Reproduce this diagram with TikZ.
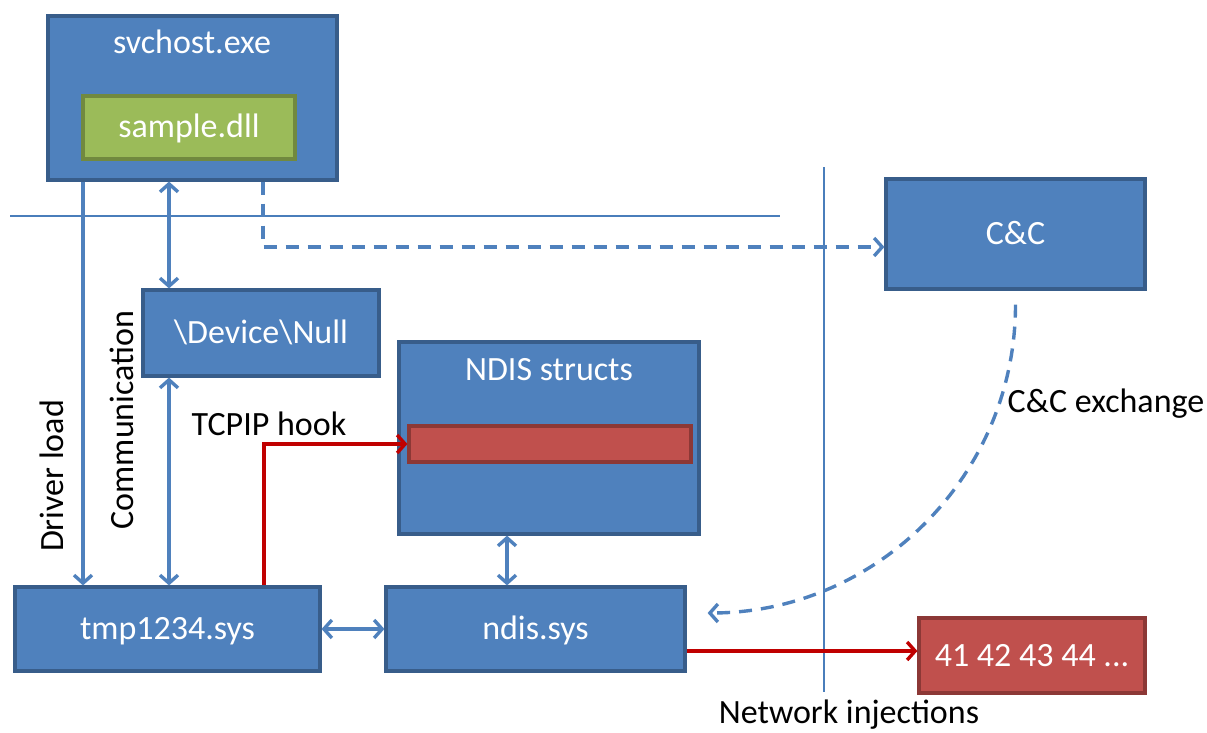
\documentclass[tikz,border=0pt]{standalone}
\usepackage{fontspec}
\setmainfont{Carlito}
\usetikzlibrary{arrows.meta}
\definecolor{bfill}{HTML}{4F81BD}
\definecolor{bdraw}{HTML}{385D8A}
\definecolor{gfill}{HTML}{9BBB59}
\definecolor{gdraw}{HTML}{71893F}
\definecolor{rfill}{HTML}{C0504D}
\definecolor{rdraw}{HTML}{8C3836}
\definecolor{conblue}{HTML}{4F81BD}
\definecolor{conred}{HTML}{C00000}
\definecolor{thinblue}{HTML}{4A7EBB}
\begin{document}
\begin{tikzpicture}[x=1pt,y=-1pt,
  font=\fontsize{34}{40}\selectfont,
  >={Straight Barb[length=8pt,width=18pt]},
  box/.style={draw=bdraw, fill=bfill, line width=3.2pt, text=white, inner sep=0pt,
              text height=21pt, text depth=0pt, align=center},
  greenbox/.style={box, draw=gdraw, fill=gfill},
  redbox/.style={box, draw=rdraw, fill=rfill},
  bluecon/.style={draw=conblue, line width=3.4pt},
  redcon/.style={draw=conred, line width=3.4pt},
  dashcon/.style={bluecon, dash pattern=on 13pt off 9pt},
  thinline/.style={draw=thinblue, line width=1.2pt},
  lbl/.style={text=black, inner sep=0pt, anchor=base},
  boxtext/.style={text=white, inner sep=0pt, anchor=base}]
\useasboundingbox (0,0) rectangle (1207,733);

% boxes
\node[box, minimum width=289pt, minimum height=164pt] (svchost) at (192.5,98) {};
\node[boxtext] (svchostlbl) at (192,54) {svchost.exe};
\node[greenbox, minimum width=212pt, minimum height=63pt] (sample) at (189,127.5) {sample.dll};
\node[box, minimum width=259pt, minimum height=110pt] (cc) at (1015.5,234) {C\&C};
\node[box, minimum width=236pt, minimum height=86pt] (dev) at (261,333) {\textbackslash Device\textbackslash Null};
\node[box, minimum width=300pt, minimum height=192pt] (ndisst) at (549,438) {};
\node[boxtext] (ndisstlbl) at (549,380) {NDIS structs};
\node[redbox, minimum width=282pt, minimum height=36pt] (hook) at (550,444) {};
\node[box, minimum width=305pt, minimum height=84pt] (tmp) at (167.5,629) {tmp1234.sys};
\node[box, minimum width=299pt, minimum height=84pt] (ndis) at (535.5,629) {ndis.sys};
\node[redbox, minimum width=226pt, minimum height=75pt] (bytes) at (1032,655.5) {41 42 43 44 ...};

% helper coordinates
\coordinate (xdl) at (83,0);
\coordinate (xcom) at (169,0);
\coordinate (xdash) at (263,0);
\coordinate (ydash) at (0,247);
\coordinate (xred) at (264,0);
\coordinate (xnd) at (507,0);
\coordinate (ynet) at (0,651);
\coordinate (hl1) at (10,216);
\coordinate (hl2) at (780,216);
\coordinate (vl1) at (824,167);
\coordinate (vl2) at (824,692);

% separator lines
\draw[thinline] (hl1) -- (hl2);
\draw[thinline] (vl1) -- (vl2);

% connectors
\draw[bluecon, ->] (svchost.south -| xdl) -- (tmp.north -| xdl);
\draw[bluecon, <->] (svchost.south -| xcom) -- (dev.north -| xcom);
\draw[bluecon, <->] (dev.south -| xcom) -- (tmp.north -| xcom);
\draw[dashcon, ->] (svchost.south -| xdash) |- (cc.west |- ydash);
\draw[redcon, ->] (tmp.north -| xred) |- (hook.west);
\draw[bluecon, <->] (ndisst.south -| xnd) -- (ndis.north -| xnd);
\draw[bluecon, <->] (tmp.east) -- (ndis.west);
\draw[redcon, ->] (ndis.east |- ynet) -- (bytes.west |- ynet);
\draw[dashcon, ->] ([yshift=-14pt]cc.south) .. controls +(0,170) and +(170,0) .. ([xshift=21pt,yshift=16pt]ndis.east);

% labels
\node[lbl, rotate=90] (drvload) at (63,476) {Driver load};
\node[lbl, rotate=90] (comm) at (133,420) {Communication};
\node[lbl] (tcpip) at (269,435) {TCPIP hook};
\node[lbl] (ccex) at (1106,412) {C\&C exchange};
\node[lbl] (netinj) at (849,723) {Network injections};
\end{tikzpicture}
\end{document}
